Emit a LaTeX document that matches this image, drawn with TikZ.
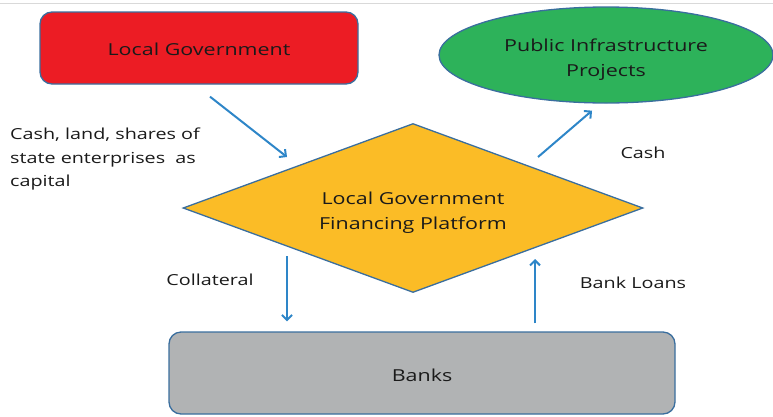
\documentclass[tikz,border=0pt]{standalone}
\usepackage{fontspec}
\setmainfont{Open Sans}
\usetikzlibrary{shapes.geometric,arrows.meta}
\definecolor{bordc}{HTML}{3A6E9E}
\definecolor{arrc}{HTML}{2E86C8}
\definecolor{redc}{HTML}{EC1C24}
\definecolor{greenc}{HTML}{2DB25A}
\definecolor{yellc}{HTML}{FBBC26}
\definecolor{grayc}{HTML}{B1B3B4}
\definecolor{txtc}{HTML}{1A1A1A}
\newcommand{\hstr}[1]{\scalebox{1.3}[1]{#1}}
\newcommand{\twoline}[2]{\raisebox{-8.5pt}[0pt][0pt]{\begin{tabular}{@{}c@{}}\hstr{#1}\\\hstr{#2}\end{tabular}}}
\newcommand{\oneline}[2]{\raisebox{-#1}[0pt][0pt]{\hstr{#2}}}
\tikzset{
  box/.style={draw=bordc, line width=1.3pt, rounded corners=12pt, inner sep=0pt},
  lbl/.style={font=\fontsize{15.2}{23.5}\selectfont, text=txtc, inner sep=0pt},
  main/.style={font=\fontsize{16.5}{25}\selectfont, text=txtc, align=center},
  arr/.style={draw=arrc, line width=2pt, -{Straight Barb[length=5pt,width=10pt,line width=2pt]}}
}
\begin{document}
\begin{tikzpicture}[x=1pt,y=-1pt]
\useasboundingbox (0,0) rectangle (773,416);
\draw[black!15, line width=1pt] (0,3) -- (773,3);
% shapes
\node[box, fill=redc, minimum width=318pt, minimum height=72pt, main] (lg) at (199,48) {\oneline{7.5pt}{Local Government}};
\node[ellipse, draw=bordc, line width=1.3pt, fill=greenc, minimum width=334pt, minimum height=96pt, inner sep=0pt, main] (pip) at (606,55) {\twoline{Public Infrastructure}{Projects}};
\node[diamond, shape aspect=2.72, draw=bordc, line width=1.3pt, fill=yellc, minimum width=460pt, minimum height=169pt, inner sep=0pt, main] (lgfp) at (413,208) {\twoline{Local Government}{Financing Platform}};
\node[box, fill=grayc, minimum width=506pt, minimum height=82pt, main] (banks) at (422,373) {\oneline{8pt}{Banks}};
% labels
\node[lbl, anchor=west, align=left] (l1) at (10,159.5) {\hstr{Cash, land, shares of}\\\hstr{state enterprises\ \ as}\\\hstr{capital}};
\node[lbl] (l2) at (643,153) {\hstr{Cash}};
\node[lbl] (l3) at (210,280) {\hstr{Collateral}};
\node[lbl] (l4) at (633,283) {\hstr{Bank Loans}};
% connectors
\draw[arr] ([shift={(11,12)}]lg.south) -- ([shift={(-126,-51)}]lgfp.center);
\draw[arr] ([shift={(125,-51)}]lgfp.center) -- ([shift={(-14,7)}]pip.south);
\draw[arr] ([shift={(-126,48)}]lgfp.center) -- ([shift={(-135,-10)}]banks.north);
\draw[arr] ([shift={(113,-8)}]banks.north) -- ([shift={(122,51)}]lgfp.center);
\end{tikzpicture}
\end{document}
